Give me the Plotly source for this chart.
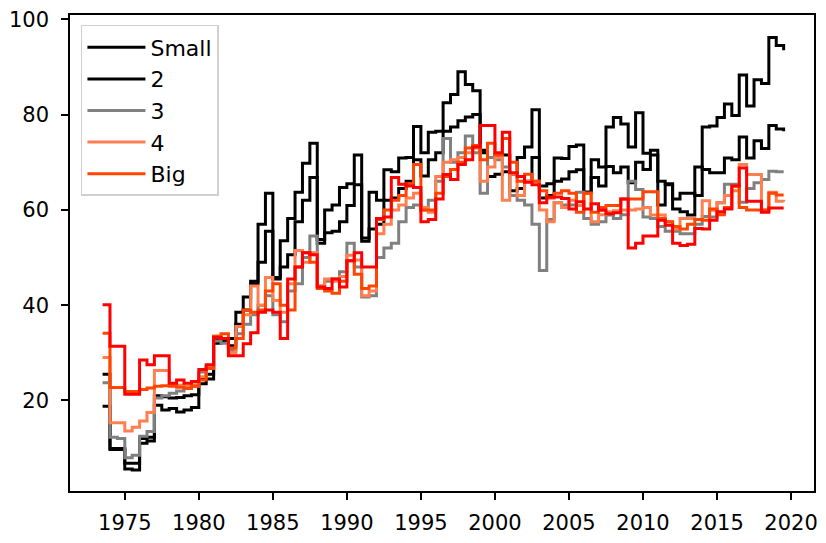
import plotly.graph_objects as go

years = [1973.5, 1974.0, 1974.5, 1975.0, 1975.5, 1976.0, 1976.5, 1977.0, 1977.5, 1978.0,
         1978.5, 1979.0, 1979.5, 1980.0, 1980.5, 1981.0, 1981.5, 1982.0, 1982.5, 1983.0,
         1983.5, 1984.0, 1984.5, 1985.0, 1985.5, 1986.0, 1986.5, 1987.0, 1987.5, 1988.0,
         1988.5, 1989.0, 1989.5, 1990.0, 1990.5, 1991.0, 1991.5, 1992.0, 1992.5, 1993.0,
         1993.5, 1994.0, 1994.5, 1995.0, 1995.5, 1996.0, 1996.5, 1997.0, 1997.5, 1998.0,
         1998.5, 1999.0, 1999.5, 2000.0, 2000.5, 2001.0, 2001.5, 2002.0, 2002.5, 2003.0,
         2003.5, 2004.0, 2004.5, 2005.0, 2005.5, 2006.0, 2006.5, 2007.0, 2007.5, 2008.0,
         2008.5, 2009.0, 2009.5, 2010.0, 2010.5, 2011.0, 2011.5, 2012.0, 2012.5, 2013.0,
         2013.5, 2014.0, 2014.5, 2015.0, 2015.5, 2016.0, 2016.5, 2017.0, 2017.5, 2018.0,
         2018.5, 2019.0, 2019.5]

small = [18.8, 9.7, 9.7, 5.6, 5.4, 11.0, 11.5, 19.0, 18.0, 18.3,
         17.6, 18.0, 18.5, 23.5, 24.5, 32.0, 32.5, 33.0, 38.5, 41.7,
         45.0, 57.0, 63.5, 45.8, 53.5, 58.2, 63.7, 69.8, 74.0, 53.8,
         60.0, 61.0, 64.7, 65.5, 71.5, 54.1, 63.7, 62.0, 68.4, 68.0,
         70.9, 71.0, 77.5, 72.0, 76.3, 76.5, 82.5, 84.2, 89.0, 86.3,
         85.0, 72.5, 71.0, 71.5, 71.5, 67.5, 71.0, 73.2, 81.0, 65.0,
         65.5, 70.9, 70.8, 73.3, 73.6, 63.7, 70.5, 69.0, 77.4, 79.4,
         78.0, 73.2, 80.4, 71.9, 72.5, 66.0, 65.5, 62.3, 63.5, 63.5,
         63.0, 77.4, 77.6, 79.4, 82.2, 79.8, 88.3, 81.8, 87.3, 86.5,
         96.2, 94.5, 93.5]

size2 = [25.5, 9.9, 9.9, 6.8, 6.8, 12.0, 12.3, 21.0, 20.8, 20.5,
         20.6, 21.0, 21.2, 24.5, 25.5, 32.8, 33.0, 31.5, 36.0, 39.0,
         44.5, 49.0, 55.5, 45.5, 48.0, 50.6, 57.5, 62.0, 66.8, 53.0,
         55.2, 55.5, 57.5, 60.9, 65.3, 53.4, 56.0, 57.0, 62.0, 62.5,
         64.5, 66.0, 70.5, 67.1, 70.5, 72.0, 76.5, 77.4, 78.7, 79.5,
         80.0, 72.0, 67.0, 67.5, 68.0, 64.0, 64.5, 66.0, 71.0, 62.5,
         63.0, 66.0, 66.5, 68.0, 68.4, 63.7, 66.8, 65.0, 69.1, 67.8,
         69.0, 65.7, 70.0, 68.5, 71.5, 61.0, 65.3, 60.2, 59.6, 58.9,
         69.0, 68.5, 67.8, 67.8, 70.9, 70.5, 75.3, 70.9, 74.5, 72.9,
         77.7, 77.0, 76.5]

size3 = [23.7, 12.3, 12.0, 8.0, 8.5, 12.5, 13.5, 20.5, 21.0, 21.5,
         22.0, 22.5, 23.0, 26.0, 27.0, 32.5, 32.0, 30.5, 34.0, 36.0,
         38.0, 40.0, 42.0, 38.0, 36.5, 43.0, 44.5, 50.0, 54.5, 44.0,
         45.0, 45.5, 47.0, 53.0, 48.0, 41.7, 42.0, 50.0, 52.0, 53.0,
         57.5, 60.5, 61.0, 60.0, 62.0, 66.0, 75.0, 70.0, 72.0, 75.5,
         72.0, 63.5, 71.0, 70.5, 69.0, 63.0, 62.0, 61.0, 57.0, 47.3,
         58.0, 61.5, 61.0, 61.0, 63.7, 58.2, 57.0, 57.5, 58.9, 58.2,
         59.0, 66.0, 64.3, 58.5, 58.2, 56.5, 55.5, 55.5, 55.0, 55.0,
         57.0, 58.6, 58.5, 61.5, 65.4, 65.4, 61.6, 64.5, 65.7, 66.4,
         68.1, 68.0, 68.0]

size4 = [29.0, 15.3, 15.3, 13.6, 14.4, 15.7, 17.5, 26.3, 26.3, 23.5,
         23.2, 23.0, 23.3, 25.0, 27.0, 33.5, 33.0, 30.0, 35.5, 38.0,
         44.0, 40.0, 45.8, 41.0, 38.5, 44.5, 51.5, 49.0, 51.0, 44.0,
         45.5, 45.0, 46.0, 50.5, 49.5, 42.0, 43.0, 55.0, 57.0, 60.0,
         61.0, 62.5, 63.5, 60.5, 59.5, 67.0, 70.0, 70.5, 71.0, 72.0,
         73.0, 66.0, 69.0, 71.0, 62.0, 67.5, 63.0, 66.0, 66.0, 60.0,
         57.5, 61.5, 60.5, 62.0, 60.9, 63.5, 57.5, 59.0, 59.6, 59.8,
         60.0, 60.0, 60.2, 60.5, 58.9, 58.9, 57.5, 56.0, 58.2, 58.2,
         58.0, 61.9, 59.9, 61.5, 63.0, 64.0, 69.5, 67.4, 67.4, 59.9,
         63.7, 61.8, 61.7]

big = [34.1, 22.7, 22.7, 21.9, 21.9, 22.3, 22.6, 23.0, 23.1, 23.0,
       22.8, 22.5, 23.0, 24.3, 26.7, 33.5, 34.0, 31.0, 33.0, 39.0,
       38.5, 39.0, 43.0, 44.5, 40.0, 39.0, 48.0, 51.0, 49.0, 43.5,
       43.0, 42.5, 45.0, 49.3, 46.5, 43.5, 44.0, 58.0, 60.0, 62.0,
       63.0, 65.5, 69.5, 60.0, 60.0, 63.5, 67.0, 68.5, 70.0, 73.0,
       73.5, 70.5, 74.0, 71.5, 75.0, 70.0, 66.0, 67.5, 66.0, 64.0,
       62.5, 63.5, 64.0, 63.5, 59.5, 63.5, 59.5, 60.5, 60.9, 60.9,
       62.3, 62.3, 62.3, 63.8, 63.8, 58.2, 57.5, 56.5, 56.0, 57.0,
       58.0, 57.8, 60.2, 59.0, 60.5, 65.0, 60.5, 60.0, 60.0, 60.0,
       63.5, 63.1, 63.1]

extra = [40.1, 31.4, 31.4, 21.3, 21.3, 28.5, 27.5, 29.4, 29.4, 23.6,
         24.3, 23.6, 24.0, 26.5, 27.5, 33.2, 33.0, 29.4, 29.4, 31.9,
         34.2, 38.5, 39.0, 38.5, 33.0, 45.5, 48.0, 51.0, 50.6, 43.8,
         43.5, 45.5, 43.8, 49.3, 51.0, 48.0, 48.0, 58.2, 58.5, 66.8,
         65.4, 65.0, 64.7, 57.5, 58.0, 62.3, 67.4, 66.4, 69.5, 70.5,
         73.2, 77.7, 77.7, 72.0, 76.3, 67.8, 67.0, 65.8, 65.3, 61.5,
         62.7, 62.7, 62.4, 60.2, 61.7, 60.2, 61.3, 59.9, 59.2, 59.4,
         62.3, 52.0, 53.0, 54.5, 54.5, 57.8, 56.8, 53.0, 52.5, 52.8,
         56.1, 56.0, 57.8, 59.6, 60.2, 65.0, 68.8, 61.8, 61.8, 59.5,
         60.4, 60.4, 60.4]

names = ["Small", "2", "3", "4", "Big", ""]
values = [small, size2, size3, size4, big, extra]
colors = ["black", "black", "gray", "coral", "orangered", "red"]
in_legend = [True, True, True, True, True, False]

x_ticks = [1975, 1980, 1985, 1990, 1995, 2000, 2005, 2010, 2015, 2020]
y_ticks = [20, 40, 60, 80, 100]

fig = go.Figure()
for i, (nm, vals, col, sl) in enumerate(zip(names, values, colors, in_legend)):
    fig.add_trace(go.Scatter(
        x=years, y=vals, mode="lines", name=nm, showlegend=sl,
        legendgroup="g%d" % i,
        line=dict(color=col, width=3, shape="hv"),
    ))

axis_common = dict(
    showgrid=False, zeroline=False, showline=True, linecolor="black",
    linewidth=1.6, mirror=True, ticks="outside", ticklen=7, tickwidth=1.6,
    tickcolor="black", tickfont=dict(family="DejaVu Sans", size=21, color="black"),
)

fig.update_xaxes(range=[1971.3, 2021.55], tickvals=x_ticks,
                 ticktext=[str(v) for v in x_ticks], ticklabelstandoff=5, **axis_common)
fig.update_yaxes(range=[1.0, 100.9], tickvals=y_ticks,
                 ticktext=[str(v) for v in y_ticks], ticklabelstandoff=8, **axis_common)

fig.update_layout(
    width=826, height=543,
    margin=dict(l=70, r=8, t=12, b=45),
    paper_bgcolor="white", plot_bgcolor="white",
    font=dict(family="DejaVu Sans", size=22, color="black"),
    showlegend=True,
    legend=dict(x=0.0147, y=0.979, xanchor="left", yanchor="top",
                bgcolor="white", bordercolor="#d0d0d0", borderwidth=1.5,
                tracegroupgap=0, traceorder="grouped", itemwidth=58,
                font=dict(family="DejaVu Sans", size=22, color="black")),
)

fig.write_html("out.html")
